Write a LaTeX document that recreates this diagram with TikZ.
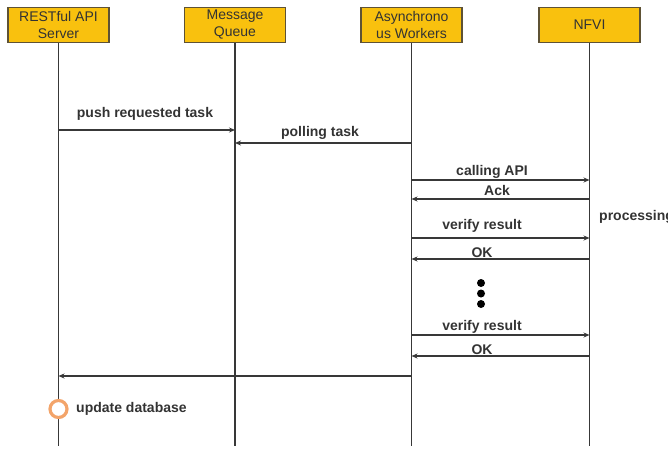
\documentclass[tikz,border=0pt]{standalone}
\usepackage{fontspec}
\setmainfont{Liberation Sans}
\usetikzlibrary{arrows.meta}
\definecolor{boxfill}{HTML}{F9C10E}
\definecolor{boxline}{HTML}{5E5235}
\definecolor{lineg}{HTML}{383838}
\definecolor{txtg}{HTML}{333333}
\definecolor{ring}{HTML}{F3A46A}
\tikzset{
  actor/.style={draw=boxline, line width=1.2pt, fill=boxfill, minimum width=101pt, minimum height=35pt, inner sep=0pt, align=center, text=txtg, font=\fontsize{14}{17}\selectfont},
  life/.style={draw=lineg, line width=1.3pt},
  msg/.style={draw=lineg, line width=1.1pt, -{Stealth[length=6pt,width=5pt]}},
  lbl/.style={text=txtg, font=\fontsize{14}{16}\selectfont\bfseries, inner sep=0pt},
  dotmark/.style={fill=black, circle, inner sep=0pt, minimum size=8pt},
}
\begin{document}
\begin{tikzpicture}[x=1pt,y=-1pt]
\useasboundingbox (0,0) rectangle (668,466);
% actors
\node[actor] (rest) at (58.5,25) {RESTful API\\Server};
\node[actor] (mq) at (235,25) {Message\\Queue};
\node[actor] (aw) at (411.5,25) {Asynchrono\\us Workers};
\node[actor] (nfvi) at (589.5,25) {NFVI};
% lifeline ends
\coordinate (restEnd) at (rest.south |- 0,446);
\coordinate (mqEnd) at (mq.south |- 0,446);
\coordinate (awEnd) at (aw.south |- 0,446);
\coordinate (nfviEnd) at (nfvi.south |- 0,446);
\draw[life] (rest.south) -- (restEnd);
\draw[life] (mq.south) -- (mqEnd);
\draw[life] (aw.south) -- (awEnd);
\draw[life] (nfvi.south) -- (nfviEnd);
% message points
\coordinate (r1) at (rest.south |- 0,130);
\coordinate (m1) at (mq.south |- 0,130);
\coordinate (m2) at (mq.south |- 0,143);
\coordinate (a2) at (aw.south |- 0,143);
\coordinate (a3) at (aw.south |- 0,180);
\coordinate (n3) at (nfvi.south |- 0,180);
\coordinate (a4) at (aw.south |- 0,199);
\coordinate (n4) at (nfvi.south |- 0,199);
\coordinate (a5) at (aw.south |- 0,238);
\coordinate (n5) at (nfvi.south |- 0,238);
\coordinate (a6) at (aw.south |- 0,259);
\coordinate (n6) at (nfvi.south |- 0,259);
\coordinate (a7) at (aw.south |- 0,335);
\coordinate (n7) at (nfvi.south |- 0,335);
\coordinate (a8) at (aw.south |- 0,356);
\coordinate (n8) at (nfvi.south |- 0,356);
\coordinate (a9) at (aw.south |- 0,376);
\coordinate (r9) at (rest.south |- 0,376);
% messages
\draw[msg] (r1) -- (m1);
\draw[msg] (a2) -- (m2);
\draw[msg] (a3) -- (n3);
\draw[msg] (n4) -- (a4);
\draw[msg] (a5) -- (n5);
\draw[msg] (n6) -- (a6);
\draw[msg] (a7) -- (n7);
\draw[msg] (n8) -- (a8);
\draw[msg] (a9) -- (r9);
% labels
\node[lbl] (l1) at (145,114) {push requested task};
\node[lbl] (l2) at (320,133) {polling task};
\node[lbl] (l3) at (492,172) {calling API};
\node[lbl] (l4) at (497,190) {Ack};
\node[lbl, anchor=west] (l5) at (599,217) {processing};
\node[lbl] (l6) at (482,226) {verify result};
\node[lbl] (l7) at (482,253) {OK};
\node[lbl] (l8) at (482,327) {verify result};
\node[lbl] (l9) at (482,350) {OK};
% ellipsis dots
\node[dotmark] (d1) at (481,283) {};
\node[dotmark] (d2) at (481,293.5) {};
\node[dotmark] (d3) at (481,304) {};
% update database
\node[circle, draw=ring, line width=3.2pt, fill=white, minimum size=17pt, inner sep=0pt] (upd) at (58.5,409) {};
\node[lbl, anchor=west] (l10) at (76,409) {update database};
\end{tikzpicture}
\end{document}
